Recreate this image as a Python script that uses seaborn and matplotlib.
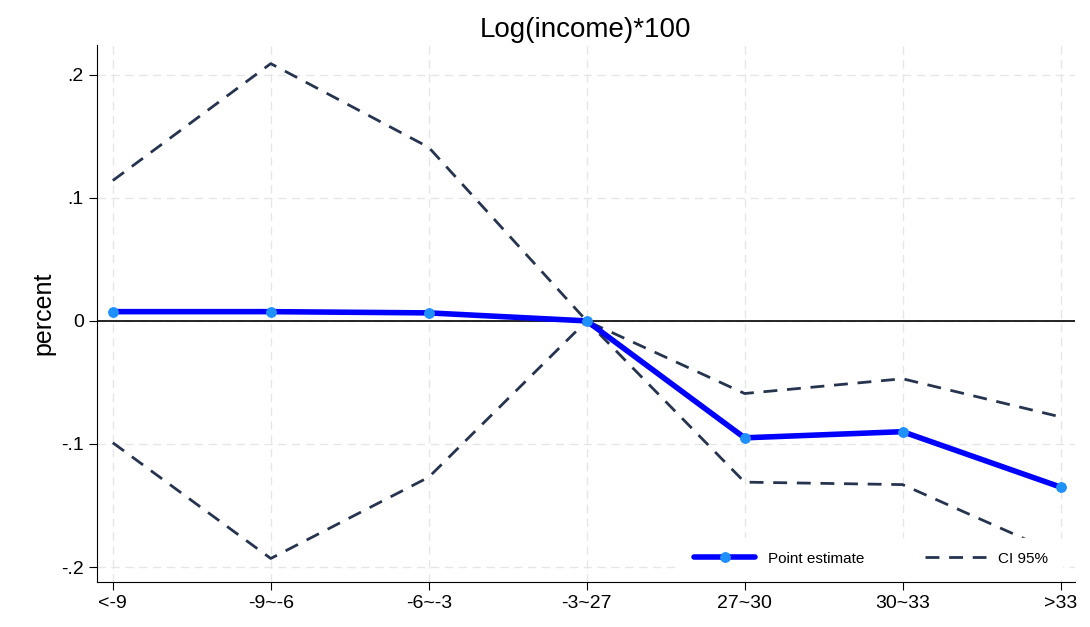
import numpy as np
import pandas as pd
import matplotlib
matplotlib.use("Agg")
import matplotlib.pyplot as plt
import seaborn as sns

categories = ["<-9", "-9~-6", "-6~-3", "-3~27", "27~30", "30~33", ">33"]
point_est = [0.0075, 0.0075, 0.0065, 0.0, -0.095, -0.090, -0.135]
ci_upper = [0.114, 0.209, 0.141, 0.0, -0.059, -0.047, -0.078]
ci_lower = [-0.099, -0.193, -0.127, 0.0, -0.131, -0.133, -0.19]

df = pd.DataFrame({"x": np.arange(len(categories)), "est": point_est,
                   "hi": ci_upper, "lo": ci_lower})

sns.set_style("white")
plt.rcParams["font.family"] = ["Liberation Sans", "DejaVu Sans"]
plt.rcParams["text.color"] = "black"
plt.rcParams["axes.labelcolor"] = "black"
plt.rcParams["xtick.color"] = "black"
plt.rcParams["ytick.color"] = "black"

fig, ax = plt.subplots(figsize=(10.9, 6.27), dpi=100)
fig.subplots_adjust(left=0.089, right=0.986, bottom=0.072, top=0.928)

ax.axhline(0, color="black", lw=1.2, zorder=1)
sns.lineplot(data=df, x="x", y="hi", ax=ax, color="#263450", lw=2,
             linestyle=(0, (5, 3.5)), label="CI 95%", zorder=2)
sns.lineplot(data=df, x="x", y="lo", ax=ax, color="#263450", lw=2,
             linestyle=(0, (5, 3.5)), label="_nolegend_", zorder=2)
sns.lineplot(data=df, x="x", y="est", ax=ax, color="#0000ff", lw=4,
             marker="o", markersize=7, markerfacecolor="#1e90ff",
             markeredgecolor="#1e90ff", label="Point estimate", zorder=3)

ax.set_xlim(-0.1, 6.09)
ax.set_ylim(-0.212, 0.224)
ax.set_xticks(df["x"])
ax.set_xticklabels(categories)
ax.set_yticks([-0.2, -0.1, 0, 0.1, 0.2])
ax.set_yticklabels(["-.2", "-.1", "0", ".1", ".2"])
ax.tick_params(axis="both", labelsize=14, length=6, color="black",
               direction="out", bottom=True, left=True)
ax.grid(True, color="#e6e6e6", linestyle=(0, (6, 4)), lw=1)
for s in ["top", "right"]:
    ax.spines[s].set_visible(False)
for s in ["left", "bottom"]:
    ax.spines[s].set_color("black")
ax.set_xlabel("")
ax.set_ylabel("percent", fontsize=18)
ax.set_title("Log(income)*100", fontsize=20)

h, l = ax.get_legend_handles_labels()
order = [l.index("Point estimate"), l.index("CI 95%")]
leg = ax.legend([h[i] for i in order], [l[i] for i in order], ncol=2,
                loc="lower right", bbox_to_anchor=(0.995, -0.01), fontsize=11,
                frameon=True, framealpha=1, edgecolor="white",
                columnspacing=4, handlelength=4, borderpad=0.9)
leg.set_zorder(5)

plt.savefig("out.png", dpi=100)
